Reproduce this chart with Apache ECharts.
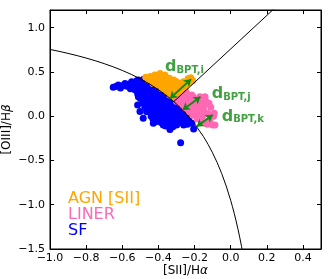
<!DOCTYPE html>
<html>
<head>
<meta charset="utf-8">
<script src="https://cdn.jsdelivr.net/npm/echarts@6/dist/echarts.min.js"></script>
<style>html,body{margin:0;padding:0;background:#fff;}#c{width:330px;height:279px;}</style>
</head>
<body>
<div id="c"></div>
<script>
// ---- data ----
const xTicks = [-1.0, -0.8, -0.6, -0.4, -0.2, 0.0, 0.2, 0.4];
const yTicks = [-1.5, -1.0, -0.5, 0.0, 0.5, 1.0];

// Kewley [SII] demarcation curve (values read/tabulated)
const kewleyX = [-1.0,-0.95,-0.9,-0.85,-0.8,-0.75,-0.7,-0.65,-0.6,-0.55,-0.5,-0.45,-0.4,-0.35,-0.3,-0.25,-0.2,-0.15,-0.125,-0.1,-0.075,-0.05,-0.025,0.0,0.01,0.02,0.03,0.04,0.05,0.06,0.07];
const kewleyY = [0.7545,0.7331,0.7098,0.6846,0.6571,0.6271,0.5941,0.5577,0.5174,0.4724,0.4220,0.3649,0.3000,0.2254,0.1387,0.0368,-0.0846,-0.2319,-0.3180,-0.4143,-0.5228,-0.6459,-0.7870,-0.95,-1.0226,-1.1,-1.1828,-1.2714,-1.3667,-1.4692,-1.58];
// Seyfert / LINER line
const seyLinerX = [-0.3146, 0.25];
const seyLinerY = [0.1654, 1.2325];

const sfPoints = [
[-0.650,0.326],[-0.636,0.335],[-0.622,0.352],[-0.610,0.318],[-0.600,0.345],[-0.585,0.371],[-0.575,0.338],[-0.565,0.360],[-0.548,0.389],[-0.540,0.350],[-0.530,0.375],[-0.511,0.408],[-0.484,0.414],
[-0.520,0.400],[-0.505,0.395],[-0.490,0.405],[-0.478,0.395],
[-0.520,0.345],[-0.500,0.350],[-0.475,0.355],[-0.455,0.340],[-0.440,0.350],
[-0.555,0.310],[-0.530,0.300],[-0.505,0.295],[-0.480,0.305],[-0.460,0.300],[-0.435,0.310],[-0.415,0.300],[-0.400,0.295],
[-0.515,0.255],[-0.490,0.250],[-0.470,0.245],[-0.445,0.255],[-0.420,0.250],[-0.395,0.245],[-0.375,0.255],[-0.365,0.240],
[-0.500,0.200],[-0.475,0.205],[-0.455,0.195],[-0.430,0.200],[-0.405,0.210],[-0.385,0.195],[-0.360,0.200],[-0.340,0.190],
[-0.485,0.150],[-0.465,0.145],[-0.440,0.155],[-0.415,0.150],[-0.395,0.140],[-0.370,0.155],[-0.350,0.145],[-0.325,0.150],[-0.310,0.140],
[-0.475,0.100],[-0.455,0.105],[-0.430,0.095],[-0.410,0.100],[-0.385,0.105],[-0.360,0.095],[-0.340,0.100],[-0.315,0.105],[-0.295,0.095],[-0.280,0.090],
[-0.465,0.050],[-0.440,0.055],[-0.420,0.045],[-0.395,0.050],[-0.370,0.055],[-0.345,0.045],[-0.320,0.050],[-0.300,0.055],[-0.275,0.045],[-0.258,0.040],
[-0.440,0.000],[-0.415,0.005],[-0.390,-0.005],[-0.365,0.000],[-0.340,0.005],[-0.315,-0.005],[-0.290,0.000],[-0.265,0.005],[-0.245,-0.005],
[-0.430,-0.030],[-0.400,-0.025],[-0.370,-0.035],[-0.340,-0.030],[-0.310,-0.025],[-0.280,-0.035],[-0.255,-0.030],[-0.235,-0.020],
[-0.410,-0.060],[-0.385,-0.070],[-0.355,-0.065],[-0.330,-0.060],[-0.305,-0.065],[-0.280,-0.070],[-0.250,-0.065],[-0.230,-0.055],
[-0.360,-0.110],[-0.320,-0.120],[-0.260,-0.100],[-0.240,-0.090],[-0.215,-0.080],
[-0.419,-0.060],[-0.373,-0.098],[-0.336,-0.150],[-0.326,-0.079],[-0.299,-0.098],[-0.262,-0.060],[-0.205,-0.143],[-0.277,-0.300],
[-0.391,-0.042],[-0.484,-0.022],[-0.502,0.052],[-0.515,0.127],[-0.511,0.220],[-0.428,-0.079]
];

const agnPoints = [
[-0.470,0.440],[-0.455,0.410],[-0.445,0.450],[-0.430,0.370],[-0.425,0.420],[-0.420,0.465],[-0.410,0.427],[-0.405,0.350],[-0.400,0.390],[-0.391,0.483],[-0.385,0.440],
[-0.380,0.310],[-0.375,0.360],[-0.370,0.400],[-0.364,0.465],[-0.355,0.280],[-0.350,0.330],[-0.345,0.380],[-0.340,0.430],[-0.336,0.240],[-0.330,0.300],[-0.320,0.350],
[-0.315,0.410],[-0.310,0.210],[-0.300,0.260],[-0.299,0.389],[-0.295,0.320],[-0.285,0.360],[-0.280,0.260],[-0.275,0.300],[-0.262,0.389],[-0.260,0.340],[-0.250,0.300],
[-0.245,0.360],[-0.235,0.427],[-0.230,0.380],[-0.221,0.434],[-0.210,0.400]
];

const linerPoints = [
[-0.300,0.170],[-0.280,0.150],[-0.275,0.200],[-0.265,0.120],[-0.260,0.180],[-0.255,0.230],[-0.250,0.090],[-0.245,0.150],[-0.243,0.260],[-0.235,0.200],[-0.230,0.050],
[-0.225,0.120],[-0.220,0.170],[-0.215,0.240],[-0.210,0.010],[-0.207,0.220],[-0.200,0.080],[-0.195,0.140],[-0.190,0.190],[-0.185,-0.030],[-0.180,0.040],[-0.175,0.110],
[-0.170,0.220],[-0.165,0.160],[-0.160,-0.060],[-0.155,0.000],[-0.150,0.070],[-0.145,0.130],[-0.142,0.220],[-0.140,0.180],[-0.130,-0.090],[-0.125,0.030],[-0.120,0.146],
[-0.115,-0.040],[-0.110,0.100],[-0.100,-0.100],[-0.095,0.000],[-0.091,0.034],[-0.087,-0.098]
];

// d_BPT distance arrows: [start, end]
const arrowI = [[-0.336, 0.200], [-0.219, 0.419]];
const arrowJ = [[-0.266, 0.071], [-0.167, 0.220]];
const arrowK = [[-0.188, -0.117], [-0.0995, 0.015]];
const arrowLabels = ['BPT,i', 'BPT,j', 'BPT,k'];
const arrowLabelAnchors = [[-0.3635, 0.554], [-0.105, 0.25], [-0.0497, -0.002]];

// ---- chart ----
const FONT = 'DejaVu Sans';
const GREEN = '#128a12';
function tickFmt(list) {
  return function (v) {
    if (!list.some(t => Math.abs(t - v) < 1e-9)) return '';
    const s = Math.abs(v).toFixed(1);
    return (v < -1e-9 ? '\u2212' : '') + s;
  };
}
const zip = (xs, ys) => xs.map((x, i) => [x, ys[i]]);

const chart = echarts.init(document.getElementById('c'), null, {renderer: 'canvas', devicePixelRatio: 1});
const axisCommon = {
  type: 'value',
  axisLine: {show: true, onZero: false, lineStyle: {color: '#000', width: 1}},
  axisTick: {show: true, inside: true, length: 4, lineStyle: {color: '#000', width: 1}},
  splitLine: {show: false},
};
const option = {
  animation: false,
  textStyle: {fontFamily: FONT},
  grid: {left: 50, right: 9, top: 10, bottom: 30, show: true, borderColor: '#000', borderWidth: 1,
    backgroundColor: 'transparent', containLabel: false, outerBoundsMode: 'none'},
  xAxis: [
    Object.assign({}, axisCommon, {
      min: -1.0, max: 0.5, interval: 0.2, position: 'bottom',
      axisLabel: {show: true, margin: 4, fontSize: 11, color: '#000', fontFamily: FONT, formatter: tickFmt(xTicks), showMaxLabel: false},
      name: '{n|[SII]/H}{g|\u03b1}', nameLocation: 'middle', nameGap: 16, nameMoveOverlap: false,
      nameTextStyle: {fontFamily: FONT, color: '#000', rich: {n: {fontSize: 12, fontFamily: FONT, color: '#000'}, g: {fontSize: 12, fontFamily: FONT, fontStyle: 'italic', color: '#000'}}}
    }),
    Object.assign({}, axisCommon, {
      min: -1.0, max: 0.5, interval: 0.2, position: 'top', axisLabel: {show: false}
    })
  ],
  yAxis: [
    Object.assign({}, axisCommon, {
      min: -1.5, max: 1.2, interval: 0.5, position: 'left',
      axisLabel: {show: true, margin: 5, fontSize: 11, color: '#000', fontFamily: FONT, formatter: tickFmt(yTicks), showMaxLabel: false},
      name: '{n|[OIII]/H}{g|\u03b2}', nameLocation: 'middle', nameGap: 37, nameRotate: 90, nameMoveOverlap: false,
      nameTextStyle: {fontFamily: FONT, color: '#000', rich: {n: {fontSize: 12, fontFamily: FONT, color: '#000'}, g: {fontSize: 12, fontFamily: FONT, fontStyle: 'italic', color: '#000'}}}
    }),
    Object.assign({}, axisCommon, {
      min: -1.5, max: 1.2, interval: 0.5, position: 'right', axisLabel: {show: false}
    })
  ],
  legend: {
    orient: 'vertical', left: 58, top: 186, itemGap: 0, itemWidth: 0, itemHeight: 16, icon: 'none',
    selectedMode: false,
    textStyle: {fontSize: 16, fontFamily: FONT},
    data: [
      {name: 'AGN [SII]', textStyle: {color: '#ffa500'}},
      {name: 'LINER', textStyle: {color: '#ff69b4'}},
      {name: 'SF', textStyle: {color: '#0000ff'}}
    ]
  },
  series: [
    {name: 'SF', type: 'scatter', data: sfPoints, symbolSize: 7, itemStyle: {color: '#0000ff', opacity: 1}, z: 2},
    {name: 'AGN [SII]', type: 'scatter', data: agnPoints, symbolSize: 7, itemStyle: {color: '#ffa500', opacity: 1}, z: 2},
    {name: 'LINER', type: 'scatter', data: linerPoints, symbolSize: 7, itemStyle: {color: '#ff69b4', opacity: 1}, z: 2},
    {name: 'kewley', type: 'line', data: zip(kewleyX, kewleyY), showSymbol: false, symbol: 'none', clip: true,
      lineStyle: {color: '#000', width: 1}, z: 3},
    {name: 'seyliner', type: 'line', data: zip(seyLinerX, seyLinerY), showSymbol: false, symbol: 'none', clip: true,
      lineStyle: {color: '#000', width: 1}, z: 3},
    {name: 'arrows', type: 'lines', coordinateSystem: 'cartesian2d', polyline: false,
      symbol: ['arrow', 'arrow'], symbolSize: 7,
      lineStyle: {color: GREEN, width: 2, opacity: 1},
      data: [{coords: arrowI}, {coords: arrowJ}, {coords: arrowK}], z: 4},
    {name: 'arrowLabels', type: 'scatter', symbolSize: 0, z: 5, silent: true,
      data: arrowLabelAnchors.map((p, i) => ({value: p, sub: arrowLabels[i]})),
      label: {show: true, position: 'right', distance: 0,
        formatter: p => '{d|d}{s|' + p.data.sub + '}',
        rich: {
          d: {fontSize: 16, fontWeight: 'bold', color: GREEN, fontFamily: FONT, lineHeight: 16, verticalAlign: 'bottom'},
          s: {fontSize: 10, fontWeight: 'bold', color: GREEN, fontFamily: FONT, lineHeight: 8, verticalAlign: 'bottom'}
        }}}
  ]
};
chart.setOption(option);
</script>
</body>
</html>
